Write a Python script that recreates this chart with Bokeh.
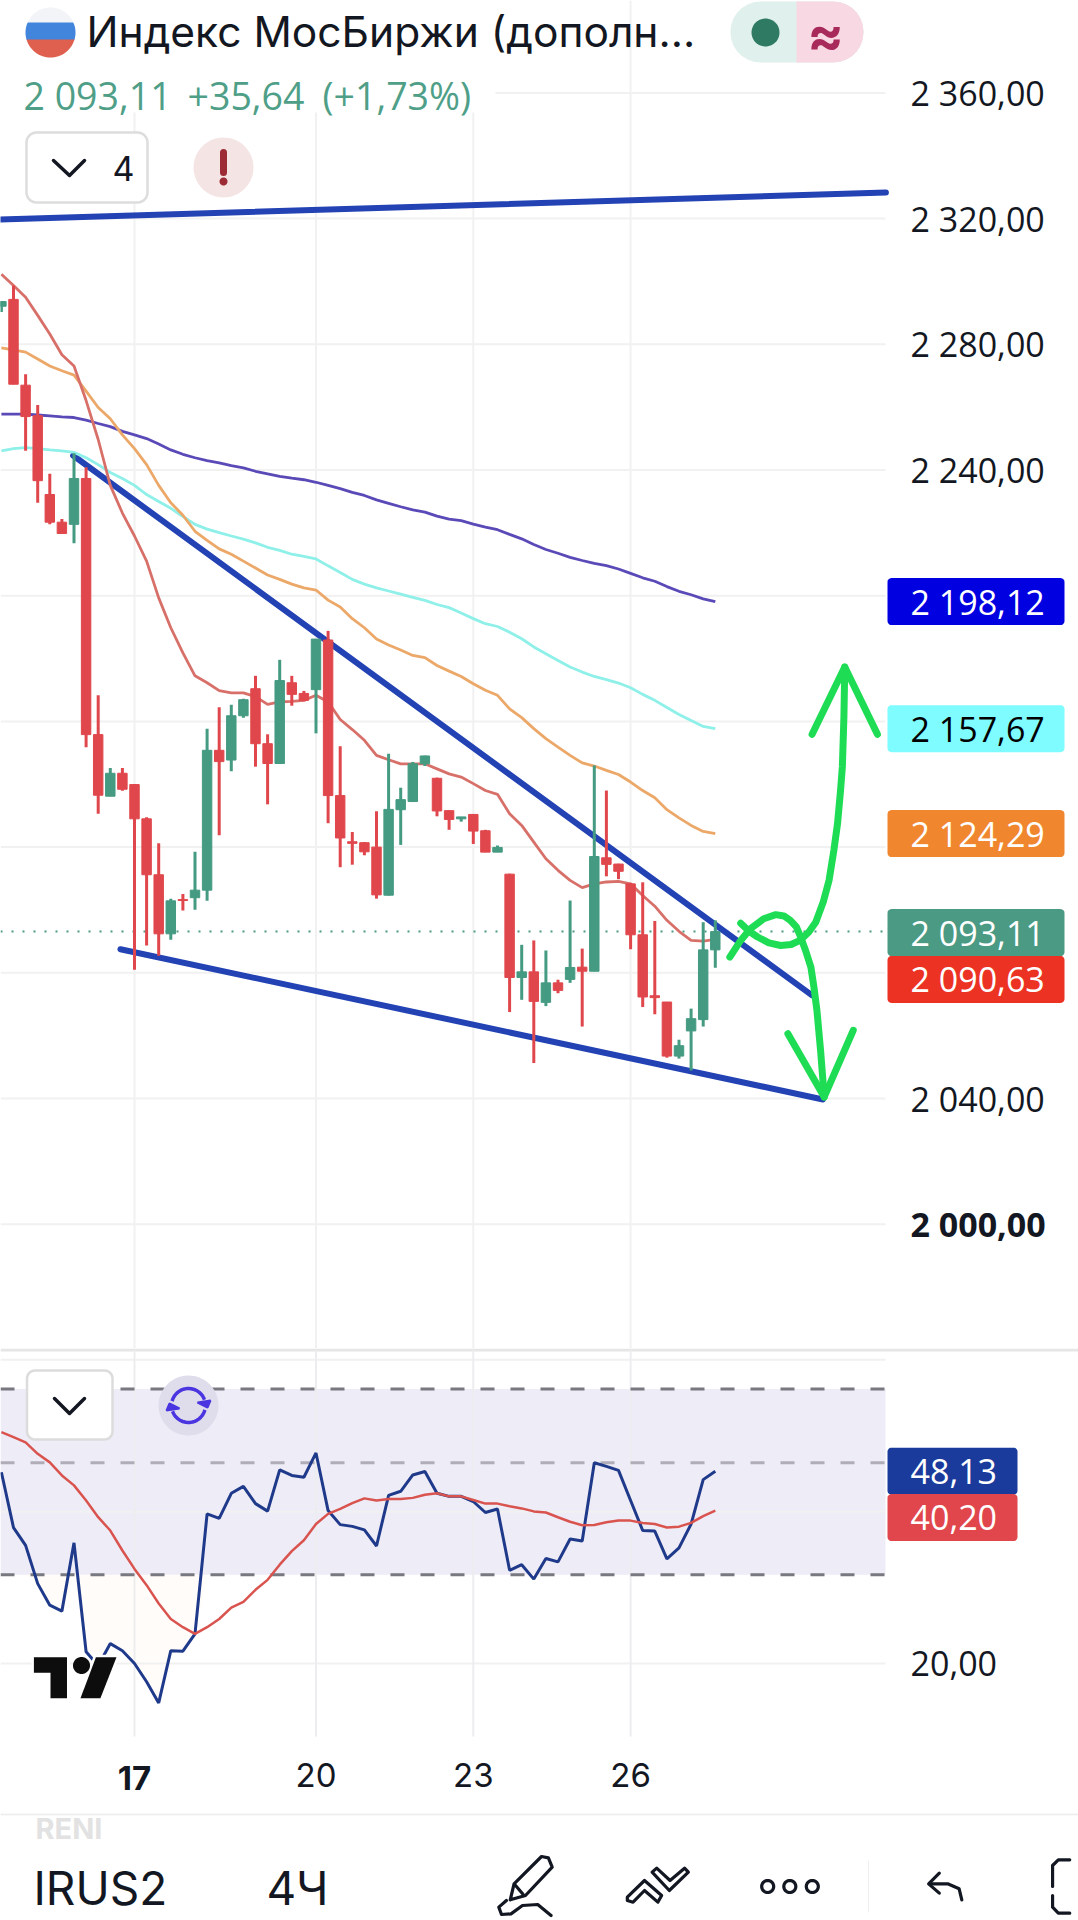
import numpy as np
from bokeh.plotting import figure
from bokeh.layouts import column
from bokeh.models import Range1d, FixedTicker
from bokeh.core.properties import value
from bokeh.embed import file_html
from bokeh.resources import INLINE

# ---------- data ----------
bar_index = list(range(-11, 49))
opens = [2292.1,2294.3,2267.0,2257.3,2232.2,2223.4,2222.7,2237.3,2155.8,2136.2,2143.5,
         2139.9,2129.0,2111.2,2092.4,2103.3,2103.9,2106.3,2150.8,2147.7,2161.8,2170.4,2152.9,2146.6,2172.3,2168.9,2170.1,2185.9,2136.4,2121.7,2121.4,2120.0,
         2104.7,2131.9,2134.5,2146.5,2141.9,2131.6,2129.0,2130.4,2125.2,2118.4,2111.4,2078.5,2080.3,2070.6,2076.8,2077.9,2081.8,2080.5,2116.6,2114.6,2108.3,2092.1,2072.7,2070.7,2053.5,2061.5,2065.1,2087.3]
highs = [2293.8,2298.7,2270.5,2260.7,2238.8,2224.4,2245.3,2240.9,2168.3,2145.2,2145.2,
         2140.1,2129.5,2121.2,2103.6,2105.1,2118.5,2157.7,2164.5,2165.3,2167.2,2174.5,2155.9,2179.6,2174.5,2169.7,2186.2,2188.8,2152.1,2124.8,2121.6,2131.4,
         2149.7,2138.9,2147.1,2149.1,2142.1,2131.7,2129.6,2130.4,2125.5,2120.5,2111.5,2088.9,2090.3,2087.1,2077.8,2103.0,2087.7,2146.0,2138.0,2114.7,2108.6,2108.8,2096.5,2070.7,2058.7,2068.6,2096.1,2096.7]
lows = [2290.3,2267.3,2246.1,2229.6,2222.7,2219.8,2216.7,2151.8,2130.6,2136.2,2137.9,
        2081.0,2088.7,2085.4,2090.5,2099.8,2100.1,2102.9,2123.8,2144.1,2161.2,2145.6,2133.6,2146.6,2165.0,2166.4,2156.2,2127.6,2113.6,2114.4,2117.4,2103.6,
        2104.6,2120.7,2134.5,2145.8,2129.8,2125.5,2128.1,2121.0,2118.4,2118.4,2067.5,2071.4,2051.3,2069.4,2073.5,2076.8,2062.9,2080.5,2110.7,2109.8,2087.5,2069.1,2066.8,2053.0,2052.7,2048.9,2062.9,2081.6]
closes = [2293.6,2267.3,2257.0,2236.6,2223.4,2219.8,2237.3,2155.8,2136.5,2143.5,2138.4,
          2129.0,2111.2,2092.4,2102.9,2103.0,2106.3,2150.8,2147.2,2161.8,2166.9,2152.9,2146.6,2173.0,2168.6,2166.7,2186.2,2136.4,2122.9,2121.2,2118.5,2104.8,
          2132.0,2135.1,2146.5,2149.0,2131.5,2128.8,2129.6,2125.1,2118.4,2119.9,2078.5,2080.3,2070.9,2076.8,2074.4,2081.7,2080.5,2117.0,2114.5,2112.3,2092.1,2072.3,2072.1,2053.5,2056.8,2065.4,2087.3,2093.11]

ma_red = [2302.3,2298.7,2295.0,2289.2,2283.3,2276.7,2273.1,2262.1,2249.7,2235.1,2226.3,
          2219.0,2211.0,2199.3,2189.8,2181.8,2174.5,2172.3,2169.8,2169.1,2169.1,2167.9,2165.4,2166.2,2166.4,2166.7,2168.3,2166.2,2160.6,2157.4,2154.0,2149.2,
          2147.8,2146.5,2146.5,2146.5,2144.9,2143.3,2142.3,2140.2,2138.0,2136.8,2130.6,2126.9,2121.6,2116.3,2112.6,2109.4,2107.1,2108.3,2108.9,2109.1,2108.3,2104.6,2101.2,2096.7,2093.2,2090.3,2090.1,2090.63]
ma_orange = [2278.9,2278.2,2277.5,2275.3,2273.1,2271.6,2270.2,2265.1,2259.9,2256.3,2251.2,
             2246.8,2241.7,2235.1,2229.6,2225.6,2220.5,2217.6,2214.9,2213.2,2211.0,2208.8,2206.6,2205.2,2203.7,2202.5,2201.8,2198.6,2196.4,2192.7,2189.8,2186.2,
             2184.3,2182.7,2181.0,2180.3,2177.8,2176.0,2174.3,2172.0,2169.9,2168.3,2164.0,2161.2,2157.7,2154.5,2151.8,2149.2,2146.8,2145.8,2144.4,2143.1,2140.7,2138.0,2135.7,2131.9,2129.3,2126.9,2125.0,2124.29]
ma_cyan = [2246.1,2246.8,2247.1,2246.8,2246.4,2246.1,2245.6,2243.9,2241.7,2239.2,2237.3,
           2235.1,2232.2,2230.0,2227.8,2225.2,2222.7,2221.2,2220.1,2219.0,2218.0,2216.8,2215.4,2214.4,2213.2,2212.5,2211.7,2209.5,2207.4,2205.2,2203.7,2202.5,
           2201.5,2200.5,2199.5,2198.5,2197.2,2196.2,2194.5,2192.7,2191.1,2190.2,2188.4,2186.3,2183.7,2181.5,2179.4,2177.3,2175.7,2174.3,2173.3,2172.2,2170.7,2168.6,2166.7,2164.4,2162.2,2160.3,2158.4,2157.67]
ma_purple = [2257.8,2257.8,2257.8,2257.5,2257.2,2256.9,2256.7,2255.9,2254.8,2253.8,2252.3,
             2251.2,2250.0,2248.3,2246.4,2245.0,2243.9,2243.0,2242.3,2241.4,2240.7,2239.6,2238.8,2238.0,2237.4,2236.9,2236.1,2235.1,2234.1,2232.9,2231.9,2230.5,
             2229.4,2228.3,2227.3,2226.6,2225.3,2224.4,2223.9,2222.8,2221.8,2221.0,2219.5,2218.1,2216.3,2214.7,2213.5,2212.2,2211.2,2210.3,2209.6,2208.5,2207.1,2205.7,2204.6,2202.9,2201.4,2200.3,2199.0,2198.12]

rsi = [47.9,37.2,34.3,28.8,26.1,25.4,34.7,21.1,19.8,21.9,21.2,
       20.0,18.4,16.7,21.2,21.15,22.9,39.6,38.8,43.5,44.9,41.5,40.1,48.4,47.2,46.8,52.3,40.2,37.7,37.4,36.8,34.2,
       43.1,43.9,47.3,48.05,43.5,42.9,42.9,41.9,39.85,40.5,30.6,31.4,29.4,32.3,31.8,35.3,35.0,50.0,49.2,48.3,42.1,36.7,36.6,32.25,33.9,37.8,46.3,48.13]
rsi_ma = [57.5,56.2,54.9,52.1,50.1,47.2,45.1,42.1,39.0,36.7,33.5,
          30.8,28.6,26.3,24.5,23.6,22.9,23.6,24.5,25.8,26.5,28.0,29.3,31.4,33.4,35.1,37.8,39.6,40.5,41.6,42.5,42.1,
          42.4,42.4,42.6,43.2,43.5,42.9,42.9,42.2,41.5,41.5,41.0,40.6,40.05,39.85,39.0,38.2,37.6,37.65,38.1,38.4,38.4,38.0,37.8,37.2,37.35,38.0,39.2,40.2]

price_ticks = [2360, 2320, 2280, 2240, 2040]
price_grid = [2360, 2320, 2280, 2240, 2200, 2160, 2120, 2080, 2040, 2000]
rsi_grid = [20, 40, 80]
day_bars = [0, 15, 28, 41]
time_ticks = {15: "20", 28: "23", 41: "26"}
resistance_x, resistance_y = [-12, 62.1], [2319.6, 2328.3]
wedge_top_x, wedge_top_y = [-5.07, 56.0], [2244.6, 2072.8]
wedge_bot_x, wedge_bot_y = [-1.16, 56.9], [2087.5, 2039.7]
arrow1_x = [49.2,50.1,50.9,52.0,53.0,53.67,54.2,54.7,55.0,55.46,55.9,56.15,56.4,56.7,57.0]
arrow1_y = [2085.0,2090.3,2094.0,2097.2,2098.5,2098.1,2096.7,2094.6,2091.9,2087.1,2081.8,2075.5,2068.0,2055.3,2040.5]
arrow2_x = [50.1,50.77,51.5,52.43,53.4,54.27,55.0,55.73,56.3,56.92,57.4,57.8,58.1,58.35,58.5,58.63,58.7]
arrow2_y = [2095.8,2093.3,2091.4,2089.5,2088.7,2089.0,2090.3,2093.0,2096.1,2102.5,2109.4,2119.0,2127.4,2138.0,2145.5,2161.4,2177.3]
head_up_x, head_up_y = [56.0,58.7,61.4], [2155.9,2177.3,2155.9]
head_dn_x, head_dn_y = [54.0,57.0,59.4], [2060.6,2040.5,2061.7]
price_tags = [("2 198,12",2198.12,"#0000e0","#ffffff",0),("2 157,67",2157.67,"#7ffcff","#000000",0),
              ("2 124,29",2124.29,"#f0872f","#ffffff",0),("2 093,11",2093.11,"#4b9a84","#ffffff",1),
              ("2 090,63",2090.63,"#ec3222","#ffffff",40)]
rsi_tags = [("48,13",48.13,"#1a3a9c","#ffffff",0),("40,20",40.20,"#e0464c","#ffffff",7)]

# ---------- layout constants ----------
W = 1078
X0, DX = 134.0, 12.1
fx = lambda px: (np.asarray(px, float) - X0) / DX
fy = lambda py: 2040 + (1098 - np.asarray(py, float)) / 3.1425
fy2 = lambda py: 50 * np.exp((1462.3 - np.asarray(py, float)) / 219)
py_of = lambda v: 1098 - (v - 2040) * 3.1425
py2_of = lambda v: 1462.3 - 219 * np.log(v / 50)
xr = (float(fx(0)), float(fx(W)))
XR = float(fx(885))          # right end of the chart area, the price scale is beyond it
XL = xr[0]
FONT = "Inter"
NUM = "Open Sans"
TXT = "#131722"
GRID = "#f1f1f1"
SCALE_SIZE = 34

def rrect(x0, y0, x1, y1, r, n=8):
    a = np.linspace(0, np.pi / 2, n)
    xs = np.r_[x1 - r + r*np.sin(a), x1 - r + r*np.cos(a), x0 + r - r*np.sin(a), x0 + r - r*np.cos(a)]
    ys = np.r_[y0 + r - r*np.cos(a), y1 - r + r*np.sin(a), y1 - r + r*np.cos(a), y0 + r - r*np.sin(a)]
    return xs, ys

def circle(cx, cy, r, n=48):
    t = np.linspace(0, 2*np.pi, n)
    return cx + r*np.cos(t), cy + r*np.sin(t)

def band(cx, cy, r, y0, y1, n=40):
    t = np.linspace(-np.pi/2, np.pi/2, n)
    xs = cx + r*np.cos(t); ys = cy + r*np.sin(t)
    ys = np.clip(ys, y0, y1)
    return np.r_[xs, 2*cx - xs[::-1]], np.r_[ys, ys[::-1]]

def style_scale(a, standoff, size, font):
    a.axis_line_color = None
    a.major_tick_line_color = None
    a.minor_tick_line_color = None
    a.major_tick_in = 0
    a.major_tick_out = 0
    a.major_label_standoff = standoff
    a.major_label_text_font = font
    a.major_label_text_font_size = size
    a.major_label_text_color = TXT

def txt(fig, fyy, x, y, s, size, color=TXT, align="left", style="normal", font=FONT):
    fig.text(x=[float(fx(x))], y=[float(fyy(y))], text=[s], text_font=value(font), text_font_size=f"{size}px",
             text_color=color, text_align=align, text_baseline="middle", text_font_style=style)

def tag(fig, fyy, s, py, bg, fg, right):
    xs, ys = rrect(887, py - 23.5, right, py + 23.5, 4)
    fig.patch(fx(xs), fyy(ys), color=bg, line_color=None)
    txt(fig, fyy, 910, py, s, SCALE_SIZE, color=fg, font=NUM)

# ---------- main pane ----------
p = figure(width=W, height=1348, output_backend="svg", toolbar_location=None,
           x_range=Range1d(*xr), y_range=Range1d(float(fy(1348)), float(fy(0))),
           y_axis_location="right", min_border_left=0, min_border_right=0,
           min_border_top=0, min_border_bottom=0, outline_line_color=None,
           background_fill_color="white", border_fill_color="white")
p.xaxis.visible = False
p.grid.visible = False
ax = p.yaxis[0]
ax.ticker = FixedTicker(ticks=price_ticks)
ax.major_label_overrides = {t: f"{str(t)[0]} {str(t)[1:]},00" for t in price_ticks}
style_scale(ax, -(W - 910), f"{SCALE_SIZE}px", NUM)

p.segment([XL]*len(price_grid), price_grid, [XR]*len(price_grid), price_grid, line_color=GRID, line_width=2)
p.segment(day_bars, [float(fy(1348))]*4, day_bars, [float(fy(0))]*4, line_color=GRID, line_width=2)

# white backing of the header
p.patch(fx([0, 495, 495, 0]), fy([0, 0, 112, 112]), color="white", line_color=None)

p.line([XL, XR], [2093.11, 2093.11], line_color="#4b9a84", line_width=2, line_dash="2 9")

for xs, ys in ((resistance_x, resistance_y), (wedge_top_x, wedge_top_y), (wedge_bot_x, wedge_bot_y)):
    p.line(xs, ys, line_color="#2342b4", line_width=6, line_cap="round")

n_ma = len(bar_index)
p.line(bar_index, ma_purple, line_color="#5a4ab8", line_width=2.8)
p.line(bar_index, ma_cyan, line_color="#8ef0e8", line_width=2.8)
p.line(bar_index, ma_orange, line_color="#eca868", line_width=2.8)
p.line(bar_index, ma_red, line_color="#d8706a", line_width=2.8)

UP, DOWN = "#459a82", "#e0474c"
colors = [UP if c >= o else DOWN for o, c in zip(opens, closes)]
p.segment(bar_index, lows, bar_index, highs, line_color=colors, line_width=3)
p.vbar(x=bar_index, top=[max(a, b) for a, b in zip(opens, closes)],
       bottom=[min(a, b) for a, b in zip(opens, closes)], width=0.78,
       fill_color=colors, line_color=colors, line_width=1)

G = "#1fdc55"
for xs, ys in ((arrow1_x, arrow1_y), (arrow2_x, arrow2_y), (head_up_x, head_up_y), (head_dn_x, head_dn_y)):
    p.line(xs, ys, line_color=G, line_width=7, line_cap="round", line_join="round")

# header decorations
xs, ys = band(50, 32, 25, 7, 23); p.patch(fx(xs), fy(ys), color="#f2f4f7", line_color=None)
xs, ys = band(50, 32, 25, 22, 40); p.patch(fx(xs), fy(ys), color="#4285dc", line_color=None)
xs, ys = band(50, 32, 25, 39, 57); p.patch(fx(xs), fy(ys), color="#e0604f", line_color=None)

txt(p, fy, 86, 31, "Индекс МосБиржи (дополн...", 42.5)
txt(p, fy, 23, 95, "2 093,11", 37.5, color="#4f9f88", font=NUM)
txt(p, fy, 187, 95, "+35,64", 37.5, color="#4f9f88", font=NUM)
txt(p, fy, 322, 95, "(+1,73%)", 37.5, color="#4f9f88", font=NUM)

xs, ys = rrect(730, 1, 863, 62, 30)
p.patch(fx(xs), fy(ys), color="#e0f0ec", line_color=None)
p.patch(fx(np.clip(xs, 796, None)), fy(ys), color="#f8d8e2", line_color=None)
xs, ys = circle(765, 32, 14); p.patch(fx(xs), fy(ys), color="#2f7a62", line_color=None)
txt(p, fy, 825, 34, "≈", 54, color="#a82a5a", align="center", style="bold")

xs, ys = rrect(26, 132, 147, 202, 10)
p.patch(fx(xs), fy(ys), fill_color="white", line_color="#dddddd", line_width=2.5)
p.line(fx([53, 69, 84]), fy([160, 175, 160]), line_color=TXT, line_width=3.5, line_cap="round", line_join="round")
txt(p, fy, 112, 168, "4", 34)
xs, ys = circle(223, 167, 30); p.patch(fx(xs), fy(ys), color="#f4e4e4", line_color=None)
p.line(fx([223, 223]), fy([152, 172]), line_color="#9c2b35", line_width=7, line_cap="round")
xs, ys = circle(223, 181, 4); p.patch(fx(xs), fy(ys), color="#9c2b35", line_color=None)

txt(p, fy, 910, py_of(2000), "2 000,00", SCALE_SIZE, style="bold", font=NUM)
for s, v, bg, fg, off in price_tags:
    tag(p, fy, s, py_of(v) + off, bg, fg, 1064)

# ---------- RSI pane ----------
r = figure(width=W, height=452, output_backend="svg", toolbar_location=None, y_axis_type="log",
           x_range=Range1d(*xr), y_range=Range1d(float(fy2(1800)), float(fy2(1348))),
           y_axis_location="right", min_border_left=0, min_border_right=0,
           min_border_top=0, min_border_bottom=0, outline_line_color=None,
           background_fill_color="white", border_fill_color="white")
r.grid.visible = False
xa = r.xaxis[0]
xa.ticker = FixedTicker(ticks=list(time_ticks))
xa.major_label_overrides = time_ticks
style_scale(xa, -(1800 - 1762), "33px", FONT)
ra = r.yaxis[0]
ra.ticker = FixedTicker(ticks=[20])
ra.major_label_overrides = {20: "20,00"}
style_scale(ra, -(W - 910), f"{SCALE_SIZE}px", NUM)

RSI_BOT, RSI_TOP = float(fy2(1736)), float(fy2(1350))
r.line(list(xr), [float(fy2(1349.5))]*2, line_color="#e6e6e6", line_width=3)
r.quad(left=[XL], right=[XR], bottom=[30], top=[70], fill_color="#eeecf6", line_color=None)
r.varea(x=bar_index, y1=np.minimum(rsi, 30), y2=[30]*n_ma, fill_color="#fff6ec", fill_alpha=0.3)
r.segment([XL]*3, rsi_grid, [XR]*3, rsi_grid, line_color=GRID, line_width=2)
r.segment(day_bars, [RSI_BOT]*4, day_bars, [RSI_TOP]*4, line_color="#ededf0", line_width=2)
for lv, c in ((70, "#787880"), (50, "#b0adb8"), (30, "#787880")):
    r.line([XL, XR], [lv, lv], line_color=c, line_width=3, line_dash="14 16")
r.line(bar_index, rsi, line_color="#1f3a8a", line_width=3)
r.line(bar_index, rsi_ma, line_color="#d9534f", line_width=2.5)

txt(r, fy2, 134, 1777, "17", 33, align="center", style="bold")

# RSI pane decorations
xs, ys = rrect(26.5, 1370, 112, 1439, 8)
r.patch(fx(xs), fy2(ys), fill_color="white", line_color="#dcdcdc", line_width=2.5)
r.line(fx([54, 69, 84]), fy2([1398, 1413, 1398]), line_color=TXT, line_width=3.5, line_cap="round", line_join="round")
xs, ys = circle(188, 1405, 30); r.patch(fx(xs), fy2(ys), color="#dfdcec", line_color=None)
t = np.linspace(np.radians(195), np.radians(340), 20)
r.line(fx(188 + 17*np.cos(t)), fy2(1405 + 17*np.sin(t)), line_color="#4a35e0", line_width=3.5)
r.line(fx(188 + 17*np.cos(t+np.pi)), fy2(1405 + 17*np.sin(t+np.pi)), line_color="#4a35e0", line_width=3.5)
r.patch(fx([197, 210, 207]), fy2([1402, 1400, 1407]), color="#4a35e0", line_color="#4a35e0", line_width=2)
r.patch(fx([179, 166, 169]), fy2([1408, 1410, 1403]), color="#4a35e0", line_color="#4a35e0", line_width=2)
# logo: white halo first, black shape on top
logo_t = (fx([33.4, 66.5, 66.5, 50, 50, 33.4]), fy2([1656.7, 1656.7, 1697.7, 1697.7, 1672.3, 1672.3]))
logo_s = (fx([95.4, 116, 99.9, 80]), fy2([1656.7, 1656.7, 1697.7, 1697.7]))
for sx, sy in (logo_t, logo_s):
    r.patch(sx, sy, fill_color="white", line_color="white", line_width=5)
for sx, sy in (logo_t, logo_s):
    r.patch(sx, sy, fill_color="#0d0d0d", line_color=None)
xs, ys = circle(81, 1665, 8.5); r.patch(fx(xs), fy2(ys), color="#0d0d0d", line_color=None)
for s, v, bg, fg, off in rsi_tags:
    tag(r, fy2, s, py2_of(v) + off, bg, fg, 1017)

# ---------- bottom bar ----------
b = figure(width=W, height=120, output_backend="svg", toolbar_location=None, x_axis_location=None, y_axis_location=None,
           min_border=0, outline_line_color=None, background_fill_color="white", border_fill_color="white",
           x_range=Range1d(0, W), y_range=Range1d(1920, 1800))
b.grid.visible = False
b.line([0, W], [1814, 1814], line_color="#ececec", line_width=1.5)
b.line([868, 868], [1860, 1912], line_color="#eeeeee", line_width=1)
def btxt(x, y, s, size, color=TXT, style="normal"):
    b.text(x=[x], y=[y], text=[s], text_font=value(FONT), text_font_size=f"{size}px", text_color=color,
           text_baseline="middle", text_font_style=style)
btxt(35, 1828, "RENI", 29, color="#e2e2e2", style="bold")
btxt(33, 1887, "IRUS2", 46)
btxt(266, 1887, "4Ч", 46)

def zl(pts):
    a = np.array(pts, float)
    return 480 + a[:, 0] / 2.622, 1800 + a[:, 1] / 3
def icon(pts, w=3.2):
    xs, ys = zl(pts)
    b.line(xs, ys, line_color=TXT, line_width=w, line_cap="round", line_join="round")
icon([(78,298),(88,250),(160,168),(178,172),(188,200),(118,285),(78,298)])
icon([(92,255),(112,282)])
icon([(68,300),(48,320),(55,342),(80,340),(110,315),(150,312),(185,345)])
icon([(385,290),(430,240),(475,285),(465,305),(430,270),(400,305),(385,300),(385,290)])
icon([(450,215),(495,270),(545,215),(535,203),(497,240),(462,203),(450,215)])
for cx in (753, 811, 870):
    xs, ys = circle(480 + cx / 2.622, 1886, 6)
    b.line(xs, ys, line_color=TXT, line_width=3.2)
icon([(1262,298),(1255,265),(1225,250),(1178,250)])
icon([(1203,218),(1175,250),(1203,278)])
icon([(1545,178),(1515,178),(1500,195),(1500,258)])
icon([(1500,285),(1500,320),(1515,338),(1545,338)])

layout = column(p, r, b, spacing=0)
open("out.html", "w").write(file_html(layout, INLINE))
